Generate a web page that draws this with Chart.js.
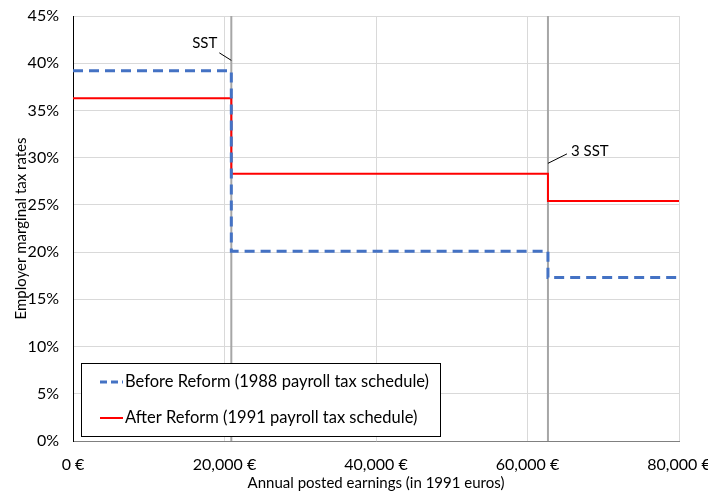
<!DOCTYPE html>
<html><head><meta charset="utf-8">
<script src="https://cdn.jsdelivr.net/npm/chart.js@4.4.1/dist/chart.umd.min.js"></script>
<style>html,body{margin:0;padding:0;background:#fff}#wrap{width:708px;height:497px}</style>
</head><body><div id="wrap"><canvas id="c" width="708" height="497"></canvas></div>
<script>
const SST = 20900;
const breakpoints = [0, SST, 3 * SST, 80000];
const beforeRates = [39.2, 20.1, 17.3, 17.3];
const afterRates = [36.3, 28.3, 25.4, 25.4];
const seriesLabels = ['Before Reform (1988 payroll tax schedule)', 'After Reform (1991 payroll tax schedule)'];
const thresholds = [SST, 3 * SST];
const thresholdLabels = ['SST', '3 SST'];
const yTicks = [0, 5, 10, 15, 20, 25, 30, 35, 40, 45];
const xTicks = [0, 20000, 40000, 60000, 80000];

const FONT = 'Lato, "Open Sans", sans-serif';

const datasets = [
  ...thresholds.map(t => ({
    label: '_thr', data: [{x: t, y: 0}, {x: t, y: 45}], borderColor: '#a6a6a6', borderWidth: 2,
    pointRadius: 0, fill: false, order: 3
  })),
  {
    label: seriesLabels[0], data: breakpoints.map((x, i) => ({x, y: beforeRates[i]})),
    borderColor: '#4472C4', borderWidth: 3, borderDash: [10, 6], stepped: 'before', pointRadius: 0, fill: false, order: 1
  },
  {
    label: seriesLabels[1], data: breakpoints.map((x, i) => ({x, y: afterRates[i]})),
    borderColor: '#ff0000', borderWidth: 2, stepped: 'before', pointRadius: 0, fill: false, order: 2
  }
];

const overlay = {
  id: 'overlay',
  afterDraw(chart) {
    const ctx = chart.ctx, xs = chart.scales.x, ys = chart.scales.y;
    ctx.save();
    ctx.font = '15px ' + FONT;
    ctx.fillStyle = '#000'; ctx.strokeStyle = '#000'; ctx.lineWidth = 1;
    ctx.textBaseline = 'middle';
    // SST
    let px = xs.getPixelForValue(thresholds[0]);
    ctx.textAlign = 'right';
    ctx.fillText(thresholdLabels[0], px - 14, ys.getPixelForValue(42.1));
    ctx.beginPath(); ctx.moveTo(px - 12, ys.getPixelForValue(41.1)); ctx.lineTo(px, ys.getPixelForValue(40.3)); ctx.stroke();
    // 3 SST
    px = xs.getPixelForValue(thresholds[1]);
    ctx.textAlign = 'left';
    ctx.fillText(thresholdLabels[1], px + 23, ys.getPixelForValue(30.7));
    ctx.beginPath(); ctx.moveTo(px + 19, ys.getPixelForValue(30.4)); ctx.lineTo(px, ys.getPixelForValue(29.4)); ctx.stroke();

    // legend box
    const lx = 81.5, ly = 363.5, lw = 359, lh = 73;
    ctx.fillStyle = '#fff'; ctx.fillRect(lx, ly, lw, lh);
    ctx.strokeStyle = '#000'; ctx.lineWidth = 1; ctx.strokeRect(lx, ly, lw, lh);
    const items = [datasets[2], datasets[3]];
    ctx.font = '16.5px ' + FONT; ctx.textAlign = 'left'; ctx.fillStyle = '#000';
    items.forEach((d, i) => {
      const y = 382 + i * 36;
      ctx.strokeStyle = d.borderColor; ctx.lineWidth = d.borderWidth;
      ctx.setLineDash(d.borderDash ? [7, 4] : []);
      ctx.beginPath(); ctx.moveTo(100, y); ctx.lineTo(123, y); ctx.stroke();
      ctx.setLineDash([]);
      ctx.fillText(d.label, 125, y);
    });
    ctx.restore();
  }
};

new Chart(document.getElementById('c'), {
  type: 'line',
  data: { datasets },
  options: {
    responsive: false, animation: false, devicePixelRatio: 1,
    layout: { padding: { left: 0, right: 29, top: 16, bottom: 0 } },
    plugins: { legend: { display: false }, tooltip: { enabled: false } },
    scales: {
      x: {
        type: 'linear', min: 0, max: 80000,
        afterBuildTicks: s => { s.ticks = xTicks.map(v => ({value: v})); },
        afterFit: s => { s.height = 56; s.paddingRight = 0; s.paddingLeft = 0; },
        ticks: { color: '#000', font: { size: 16, family: FONT }, padding: 14, maxRotation: 0,
          callback: v => v.toLocaleString('en-US') + ' €' },
        grid: { color: '#d9d9d9', lineWidth: 1, drawTicks: false },
        border: { color: '#808080', width: 1 },
        title: { display: true, text: 'Annual posted earnings (in 1991 euros)', color: '#000',
          font: { size: 15, family: FONT }, padding: { top: 0, bottom: 5 } }
      },
      y: {
        min: 0, max: 45,
        afterBuildTicks: s => { s.ticks = yTicks.map(v => ({value: v})); },
        afterFit: s => { s.width = 73; s.paddingTop = 0; s.paddingBottom = 0; },
        ticks: { color: '#000', font: { size: 16, family: FONT }, padding: 14, callback: v => v + '%' },
        grid: { color: '#d9d9d9', lineWidth: 1, drawTicks: false },
        border: { color: '#000', width: 1 },
        title: { display: true, text: 'Employer marginal tax rates', color: '#000',
          font: { size: 15, family: FONT }, padding: { top: 12, bottom: 4 } }
      }
    }
  },
  plugins: [overlay]
});
</script>
</body></html>
